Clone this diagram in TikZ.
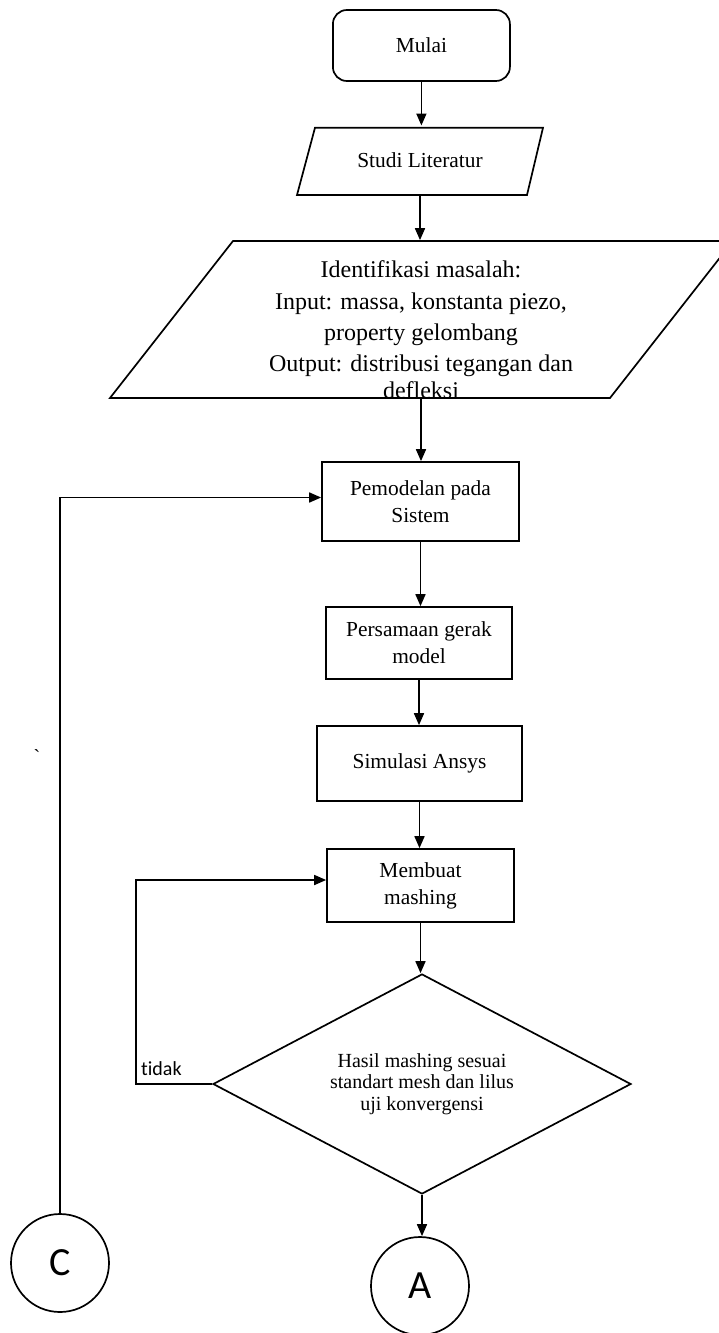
\documentclass[tikz,border=0pt]{standalone}
\usepackage{fontspec}
\setmainfont{Liberation Serif}
\newfontfamily\calibri[Ligatures={NoCommon}]{Carlito}
\usetikzlibrary{arrows.meta,shapes.geometric,calc}
\begin{document}
\begin{tikzpicture}[x=0.5pt,y=-0.5pt,line width=0.85pt,
  arr/.style={-{Triangle[length=6pt,width=5pt]}},
  procbox/.style={draw,rectangle,inner sep=0pt,align=center,font=\fontsize{10.7}{13.5}\selectfont},
  iobox/.style={rectangle,inner sep=0pt,align=center},
  conn/.style={draw,circle,inner sep=0pt,minimum size=49pt,font=\calibri\fontsize{20}{24}\selectfont},
  decision/.style={draw,diamond,inner sep=0pt,aspect=1.9,align=center,font=\fontsize{10}{10.75}\selectfont},
]
\useasboundingbox (0,0) rectangle (718,1333);

% Start
\node[procbox,rounded corners=7pt,minimum width=88.5pt,minimum height=35.5pt] (mulai) at (421.4,45.5) {Mulai};

% Studi Literatur (parallelogram)
\draw (315,127.7) -- (543,127.7) -- (527,195) -- (297,195) -- cycle;
\node[iobox,minimum width=100pt,minimum height=33.65pt,font=\fontsize{10.7}{13.5}\selectfont] (studi) at (420,160) {Studi Literatur};

% Identifikasi masalah (parallelogram)
\draw (233,241) -- (733,241) -- (610,398) -- (110,398) -- cycle;
\node[iobox,minimum width=100pt,minimum height=78.5pt] (ident) at (421,319.5) {};
\begin{scope}
\clip (233,241) -- (733,241) -- (610,398) -- (110,398) -- cycle;
\node[iobox,font=\fontsize{12}{15.6}\selectfont] (identtext) at (421,330)
  {Identifikasi masalah:\\Input: massa, konstanta piezo,\\property gelombang\\Output: distribusi tegangan dan\\[-2pt]defleksi};
\end{scope}

% Process boxes
\node[procbox,minimum width=98.5pt,minimum height=39.5pt] (pemodelan) at (420.5,501.5) {Pemodelan pada\\Sistem};
\node[procbox,minimum width=93pt,minimum height=36pt] (persamaan) at (419,643) {Persamaan gerak\\model};
\node[procbox,minimum width=102.5pt,minimum height=37.5pt] (simulasi) at (419.5,763.5) {Simulasi Ansys};
\node[procbox,minimum width=93.5pt,minimum height=36.5pt] (membuat) at (420.5,885.5) {Membuat\\mashing};

% Decision
\node[decision,minimum width=209pt,minimum height=110pt] (dia) at (422,1084)
  {Hasil mashing sesuai\\standart mesh dan lilus\\uji konvergensi};

% Connectors
\node[conn] (A) at (420,1286) {A};
\node[conn] (C) at (60,1263) {C};

\draw[arr] (mulai.south) -- (mulai.south |- studi.north);
\draw[arr] (studi.south) -- (studi.south |- ident.north);
\draw[arr] (ident.south) -- (ident.south |- pemodelan.north);
\draw[arr] (pemodelan.south) -- (pemodelan.south |- persamaan.north);
\draw[arr] (persamaan.south) -- (persamaan.south |- simulasi.north);
\draw[arr] (simulasi.south) -- (simulasi.south |- membuat.north);
\draw[arr] (membuat.south) -- (membuat.south |- dia.north);
\draw[arr] (dia.south) -- (dia.south |- A.north);

% "tidak" loop
\coordinate (loopcorner) at (136,1084);
\draw[arr] (dia.west) -- (loopcorner) |- ([yshift=2.75pt]membuat.west);
\node[font=\calibri\fontsize{10}{12}\selectfont,inner sep=0pt] (tidak) at (161.4,1069) {tidak};

% C loop
\draw[arr] (C.north) |- ([yshift=2pt]pemodelan.west);

% stray mark
\node[font=\fontsize{10}{12}\selectfont,inner sep=0pt] (mark) at (37,757) {\textasciigrave};
\end{tikzpicture}
\end{document}
